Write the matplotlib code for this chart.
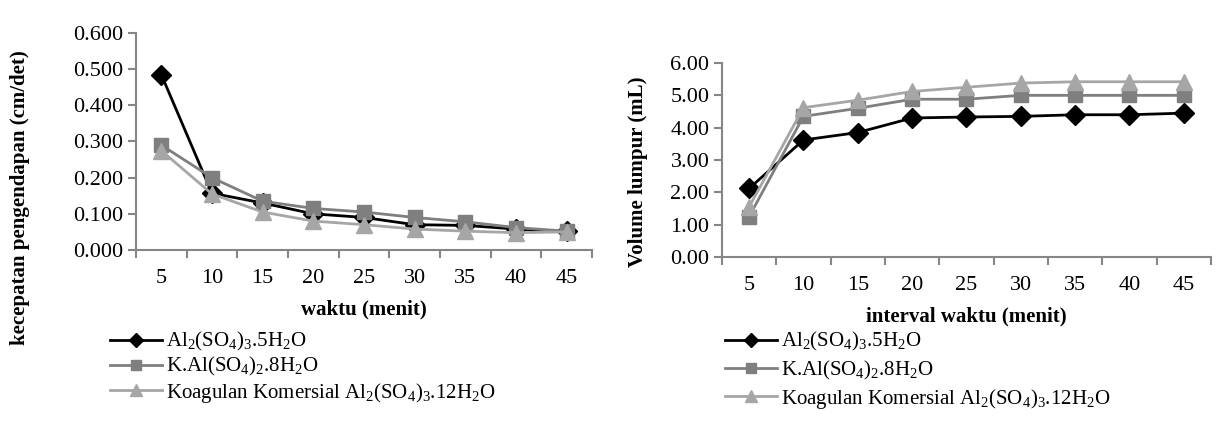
import matplotlib
matplotlib.use('Agg')
import matplotlib.pyplot as plt
from matplotlib.ticker import FixedLocator

plt.rcParams['font.family'] = ['Liberation Serif', 'DejaVu Serif']
plt.rcParams['mathtext.fontset'] = 'custom'
plt.rcParams['mathtext.rm'] = 'Liberation Serif'

# data
waktu = ['5', '10', '15', '20', '25', '30', '35', '40', '45']
label_names = [r'Al$\mathregular{_2}$(SO$\mathregular{_4}$)$\mathregular{_3}$.5H$\mathregular{_2}$O',
               r'K.Al(SO$\mathregular{_4}$)$\mathregular{_2}$.8H$\mathregular{_2}$O',
               r'Koagulan Komersial Al$\mathregular{_2}$(SO$\mathregular{_4}$)$\mathregular{_3}$.12H$\mathregular{_2}$O']

kec_al5 = [0.485, 0.157, 0.130, 0.100, 0.090, 0.070, 0.068, 0.058, 0.052]
kec_kal8 = [0.290, 0.200, 0.135, 0.115, 0.105, 0.090, 0.078, 0.062, 0.052]
kec_kom12 = [0.275, 0.155, 0.105, 0.080, 0.070, 0.058, 0.052, 0.048, 0.050]

vol_al5 = [2.12, 3.62, 3.85, 4.30, 4.33, 4.35, 4.40, 4.40, 4.45]
vol_kal8 = [1.25, 4.35, 4.60, 4.88, 4.88, 5.00, 5.00, 5.00, 5.00]
vol_kom12 = [1.55, 4.62, 4.85, 5.12, 5.25, 5.38, 5.42, 5.42, 5.42]

colors = ['#000000', '#7f7f7f', '#a6a6a6']
markers = ['D', 's', '^']
msizes = [10, 10, 11]
spine_col = '#868686'
tick_fs = 16
lab_fs = 15

xpos = [i + 0.5 for i in range(len(waktu))]

fig = plt.figure(figsize=(12.27, 4.41), dpi=100)
ax1 = fig.add_axes([0.1108, 0.4331, 0.3716, 0.4921])
ax2 = fig.add_axes([0.5884, 0.4172, 0.3985, 0.4399])


def style(ax, ylim, yticks, fmt, xlabel, ylabel):
    ax.set_xlim(0, len(waktu))
    ax.set_ylim(*ylim)
    for s in ['top', 'right']:
        ax.spines[s].set_visible(False)
    for s in ['left', 'bottom']:
        ax.spines[s].set_color(spine_col)
        ax.spines[s].set_linewidth(1.5)
    ax.set_yticks(yticks)
    ax.set_yticklabels([fmt.format(v) for v in yticks], fontsize=tick_fs)
    ax.set_xticks(xpos)
    ax.set_xticklabels(waktu, fontsize=tick_fs)
    ax.xaxis.set_minor_locator(FixedLocator(list(range(len(waktu) + 1))))
    ax.tick_params(axis='x', which='major', length=0, pad=14)
    ax.tick_params(axis='x', which='minor', length=6, width=1.5, color=spine_col)
    ax.tick_params(axis='y', length=6, width=1.5, color=spine_col, pad=3)
    ax.set_xlabel(xlabel, fontsize=lab_fs, fontweight='bold', labelpad=8)
    ax.set_ylabel(ylabel, fontsize=lab_fs, fontweight='bold')


series1 = [kec_al5, kec_kal8, kec_kom12]
series2 = [vol_al5, vol_kal8, vol_kom12]

for ys, c, m, ms, lab in zip(series1, colors, markers, msizes, label_names):
    ax1.plot(xpos, ys, color=c, marker=m, markersize=ms, linewidth=2, label=lab, clip_on=False)
for ys, c, m, ms, lab in zip(series2, colors, markers, msizes, label_names):
    ax2.plot(xpos, ys, color=c, marker=m, markersize=ms, linewidth=2, label=lab, clip_on=False)

style(ax1, (0, 0.6), [0, 0.1, 0.2, 0.3, 0.4, 0.5, 0.6], '{:.3f}', 'waktu (menit)',
      'kecepatan pengendapan (cm/det)')
ax1.yaxis.set_label_coords(-0.232, 0.24)
style(ax2, (0, 6), [0, 1, 2, 3, 4, 5, 6], '{:.2f}', 'interval waktu (menit)', 'Volume lumpur (mL)')
ax2.yaxis.set_label_coords(-0.152, 0.44)
ax2.xaxis.labelpad = 8

ax1.legend(loc='upper left', bbox_to_anchor=(0.0897, 0.251), bbox_transform=fig.transFigure,
           frameon=False, fontsize=lab_fs, handlelength=2.5, handletextpad=0.2,
           labelspacing=0.1, borderpad=0, borderaxespad=0, markerscale=0.75)
ax2.legend(loc='upper left', bbox_to_anchor=(0.591, 0.251), bbox_transform=fig.transFigure,
           frameon=False, fontsize=lab_fs, handlelength=2.5, handletextpad=0.2,
           labelspacing=0.25, borderpad=0, borderaxespad=0, markerscale=0.75)

fig.savefig('out.png', dpi=100)
